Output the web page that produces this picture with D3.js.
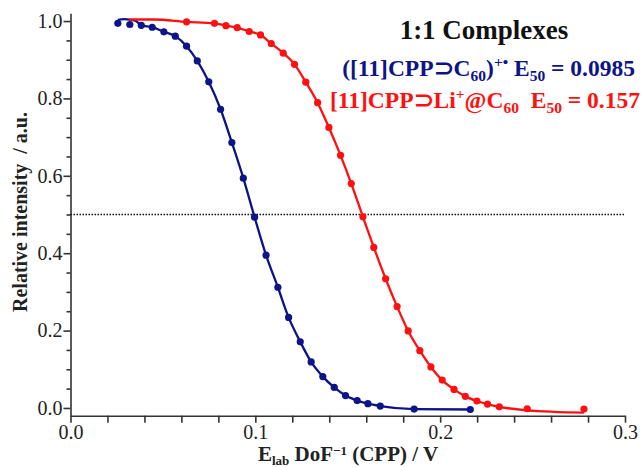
<!DOCTYPE html>
<html>
<head>
<meta charset="utf-8">
<script src="https://cdn.jsdelivr.net/npm/d3@7"></script>
<style>
  body { margin: 0; background: #fff; }
  svg text { font-family: "Liberation Serif", "Times New Roman", serif; }
</style>
</head>
<body>
<svg id="chart" width="643" height="467"></svg>
<script>
// blue: ([11]CPP⊃C60)+•
const blueX = [0.0256, 0.0321, 0.0383, 0.0442, 0.0505, 0.0567, 0.0628, 0.0686, 0.0748, 0.0812,
  0.0873, 0.0935, 0.0996, 0.1058, 0.1122, 0.1180, 0.1243, 0.1302, 0.1365, 0.1427,
  0.1488, 0.1551, 0.1609, 0.1676, 0.1859, 0.2163]
const blueY = [0.994, 0.991, 0.989, 0.984, 0.972, 0.961, 0.935, 0.897, 0.843, 0.772,
  0.686, 0.594, 0.493, 0.395, 0.312, 0.234, 0.171, 0.119, 0.081, 0.053,
  0.032, 0.019, 0.011, 0.005, -0.003, -0.004]

// red: [11]CPP⊃Li+@C60
const redX = [0.0628, 0.0779, 0.0841, 0.0902, 0.0967, 0.1028, 0.1086, 0.1151, 0.1212, 0.1273,
  0.1337, 0.1398, 0.1461, 0.1519, 0.1582, 0.1641, 0.1705, 0.1767, 0.1827, 0.1890,
  0.1950, 0.2011, 0.2075, 0.2136, 0.2199, 0.2256, 0.2320, 0.2471, 0.2778]
const redY = [0.998, 0.994, 0.988, 0.983, 0.973, 0.964, 0.942, 0.917, 0.888, 0.842,
  0.789, 0.725, 0.653, 0.580, 0.494, 0.415, 0.334, 0.262, 0.199, 0.148,
  0.106, 0.072, 0.048, 0.030, 0.018, 0.010, 0.003, -0.002, -0.003]

// where the fitted curves leave the dots
const blueFitHead = [[0.0256, 1.003], [0.029, 1.005], [0.035, 1.001]]
const redFitHead = [[0.0317, 1.004], [0.045, 1.004]]
const redFitTail = [[0.2471, -0.006], [0.2778, -0.012]]

const xTicksMajor = [0, 0.1, 0.2, 0.3]
const yTicksMajor = [0, 0.2, 0.4, 0.6, 0.8, 1.0]
const halfLevel = 0.5

const blue = "#0c1487"
const red = "#ff1010"
const serif = "'Liberation Serif', 'Times New Roman', serif"

const svg = d3.select("#chart")

const x = d3.scaleLinear().domain([0, 0.3]).range([70.5, 625])
const y = d3.scaleLinear().domain([-0.02, 1.02]).range([415.7, 13.3])

const isMajor = (list, d) => list.some(t => Math.abs(t - d) < 1e-6)

// axes
const xAxis = d3.axisBottom(x)
  .tickValues(d3.range(0, 0.3001, 0.02))
  .tickSize(7)
  .tickSizeOuter(0)
  .tickPadding(2)
  .tickFormat(d => isMajor(xTicksMajor, d) ? d3.format(".1f")(d) : "")

const gx = svg.append("g")
  .attr("transform", `translate(0,${y(-0.02)})`)
  .call(xAxis)

const yAxis = d3.axisLeft(y)
  .tickValues(d3.range(0, 1.0001, 0.05))
  .tickSizeOuter(0)
  .tickPadding(2)
  .tickFormat(d => isMajor(yTicksMajor, d) ? d3.format(".1f")(d) : "")

const gy = svg.append("g")
  .attr("transform", `translate(${x(0)},0)`)
  .call(yAxis)

gy.selectAll(".tick line")
  .attr("x2", d => isMajor(yTicksMajor, d) ? -7 : -4)

svg.selectAll("g").attr("font-family", serif)
svg.selectAll(".domain, .tick line")
  .attr("stroke", "#333")
  .attr("stroke-width", 1.6)
svg.selectAll(".tick text")
  .attr("fill", "#222")
  .attr("font-family", serif)
  .attr("font-size", 20)

// dotted 50% line
svg.append("line")
  .attr("x1", x(0)).attr("x2", x(0.3))
  .attr("y1", y(halfLevel)).attr("y2", y(halfLevel))
  .attr("stroke", "#111")
  .attr("stroke-width", 1.3)
  .attr("stroke-dasharray", "1.5,1.5")

// fitted curves
const line = d3.line()
  .x(d => x(d[0]))
  .y(d => y(d[1]))
  .curve(d3.curveMonotoneX)

const bluePts = blueX.map((v, i) => [v, blueY[i]])
const redPts = redX.map((v, i) => [v, redY[i]])

const blueFit = blueFitHead.concat(bluePts.filter(d => d[0] > 0.038))
const redFit = redFitHead.concat(redPts.slice(0, -2)).concat(redFitTail)

svg.append("path")
  .attr("d", line(blueFit))
  .attr("fill", "none")
  .attr("stroke", blue)
  .attr("stroke-width", 2.3)

svg.append("path")
  .attr("d", line(redFit))
  .attr("fill", "none")
  .attr("stroke", red)
  .attr("stroke-width", 2.3)

// data points
svg.selectAll(".pt-blue")
  .data(bluePts)
  .enter().append("circle")
  .attr("class", "pt-blue")
  .attr("cx", d => x(d[0]))
  .attr("cy", d => y(d[1]))
  .attr("r", 3.6)
  .attr("fill", blue)

svg.selectAll(".pt-red")
  .data(redPts)
  .enter().append("circle")
  .attr("class", "pt-red")
  .attr("cx", d => x(d[0]))
  .attr("cy", d => y(d[1]))
  .attr("r", 3.6)
  .attr("fill", red)

// axis titles
const xt = svg.append("text")
  .attr("x", 348).attr("y", 461)
  .attr("text-anchor", "middle")
  .attr("font-weight", "bold")
  .attr("font-size", 21)
  .attr("fill", "#222")
xt.append("tspan").text("E")
xt.append("tspan").attr("font-size", 13).attr("dy", 4).text("lab")
xt.append("tspan").attr("dy", -4).text(" DoF")
xt.append("tspan").attr("font-size", 13).attr("dy", -6).text("\u22121")
xt.append("tspan").attr("dy", 6).text(" (CPP) / V")

svg.append("text")
  .attr("transform", "translate(27,212) rotate(-90)")
  .attr("text-anchor", "middle")
  .attr("font-weight", "bold")
  .attr("font-size", 20)
  .attr("fill", "#222")
  .text("Relative intensity\u00a0 / a.u.")

// annotations
svg.append("text")
  .attr("x", 484).attr("y", 38.5)
  .attr("text-anchor", "middle")
  .attr("font-weight", "bold")
  .attr("font-size", 27)
  .attr("fill", "#111")
  .text("1:1 Complexes")

const l1 = svg.append("text")
  .attr("x", 635).attr("y", 76)
  .attr("text-anchor", "end")
  .attr("font-weight", "bold")
  .attr("font-size", 23.5)
  .attr("fill", blue)
l1.append("tspan").text("([11]CPP\u2283C")
l1.append("tspan").attr("font-size", 15.5).attr("dy", 5).text("60")
l1.append("tspan").attr("dy", -5).text(")")
l1.append("tspan").attr("font-size", 15.5).attr("dy", -9).text("+\u2022")
l1.append("tspan").attr("dy", 9).text(" E")
l1.append("tspan").attr("font-size", 15.5).attr("dy", 5).text("50")
l1.append("tspan").attr("dy", -5).text(" = 0.0985")

const l2 = svg.append("text")
  .attr("x", 330).attr("y", 108)
  .attr("font-weight", "bold")
  .attr("font-size", 23.5)
  .attr("fill", red)
l2.append("tspan").text("[11]CPP\u2283Li")
l2.append("tspan").attr("font-size", 15.5).attr("dy", -9).text("+")
l2.append("tspan").attr("dy", 9).text("@C")
l2.append("tspan").attr("font-size", 15.5).attr("dy", 5).text("60")
l2.append("tspan").attr("dy", -5).text("\u00a0 E")
l2.append("tspan").attr("font-size", 15.5).attr("dy", 5).text("50")
l2.append("tspan").attr("dy", -5).text(" = 0.157")
</script>
</body>
</html>
